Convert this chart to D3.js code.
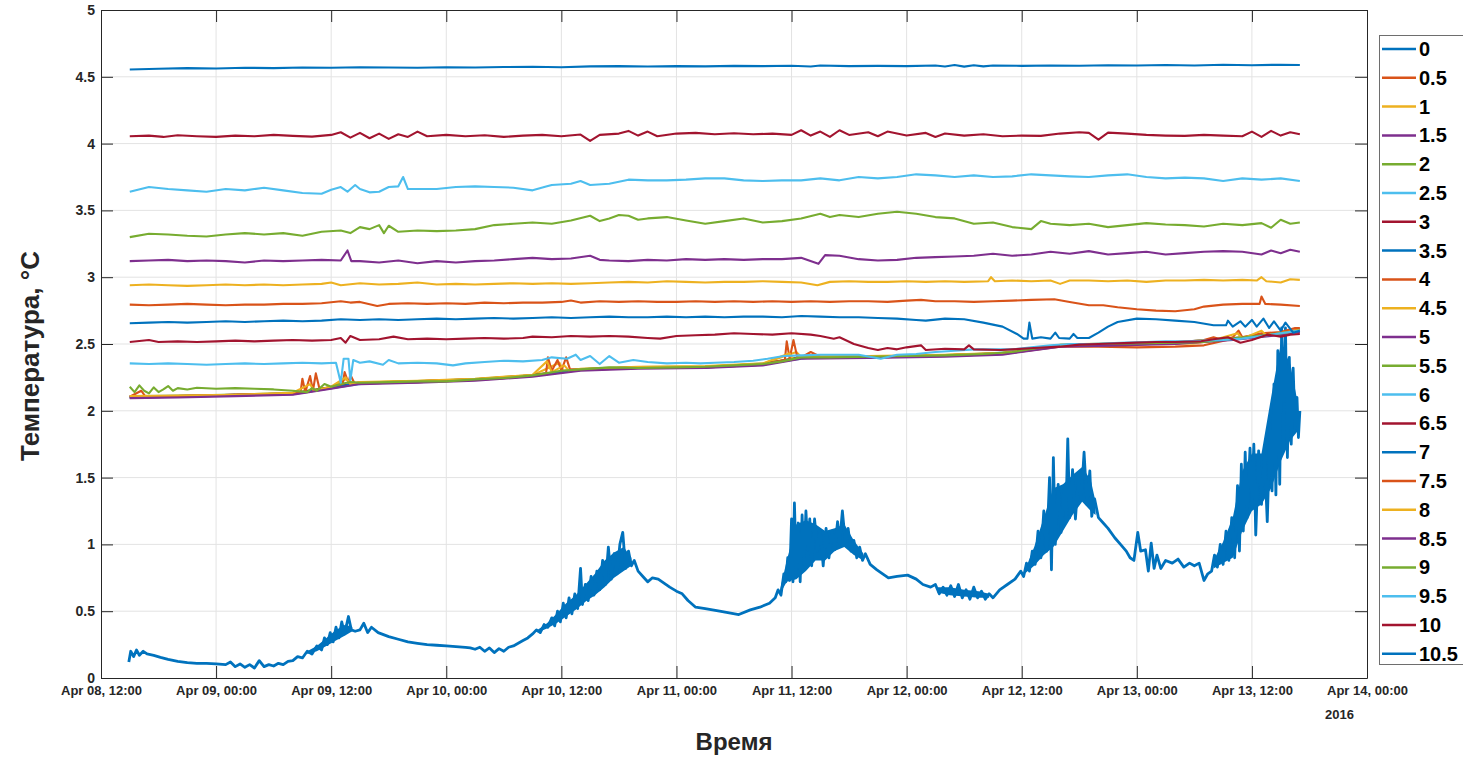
<!doctype html>
<html lang="ru">
<head>
<meta charset="utf-8">
<script src="https://d3js.org/d3.v7.min.js"></script>
<title>Температура</title>
<style>
  body { margin: 0; background: #fff; }
  text { font-family: "Liberation Sans", Arial, Helvetica, sans-serif; }
</style>
</head>
<body>
<svg id="svg1" width="1463" height="757"></svg>
<script>
// time axis: hours after Apr 08 2016, 12:00
const t0 = Date.UTC(2016, 3, 8, 12);
const tEnd = Date.UTC(2016, 3, 14, 0);

const depths = ["0","0.5","1","1.5","2","2.5","3","3.5","4","4.5","5","5.5","6","6.5","7","7.5","8","8.5","9","9.5","10","10.5"];
const colors = ["#0072BD","#D95319","#EDB120","#7E2F8E","#77AC30","#4DBEEE","#A2142F"];
const yTicks = [0,0.5,1,1.5,2,2.5,3,3.5,4,4.5,5];

// [hour, °C] per depth
const d0 = [[2.9,0.12],[3.1,0.2],[3.4,0.16],[3.7,0.21],[4,0.17],[4.4,0.2],[4.8,0.18],[5.5,0.17],[6.2,0.155],[7,0.14],[8,0.125],[9,0.115],[10,0.11],[11,0.11],[12,0.105],[13,0.1],[13.5,0.12],[14,0.085],[14.5,0.105],[15,0.08],[15.5,0.1],[16,0.075],[16.5,0.13],[17,0.085],[17.5,0.1],[18,0.09],[18.5,0.11],[19,0.1],[19.5,0.125],[20,0.13],[20.5,0.16],[21,0.15],[21.5,0.2],[22,0.18],[22.5,0.24],[23,0.21],[23.3,0.3],[23.6,0.25],[23.9,0.34],[24.2,0.27],[24.5,0.38],[24.8,0.3],[25.1,0.42],[25.4,0.33],[25.8,0.46],[26.1,0.36],[26.5,0.35],[27,0.36],[27.4,0.41],[27.8,0.34],[28.2,0.38],[28.9,0.34],[30,0.31],[31,0.29],[32,0.27],[33,0.26],[34,0.25],[35,0.245],[36,0.24],[37,0.235],[38,0.23],[38.5,0.225],[39,0.215],[39.5,0.23],[40,0.2],[40.5,0.225],[41,0.19],[41.5,0.22],[42,0.2],[42.5,0.23],[43,0.24],[43.5,0.26],[44,0.28],[44.5,0.3],[45,0.33],[45.4,0.36],[45.8,0.34],[46.2,0.4],[46.6,0.38],[47,0.45],[47.3,0.39],[47.6,0.5],[47.9,0.42],[48.2,0.56],[48.5,0.45],[48.8,0.6],[49.1,0.48],[49.4,0.63],[49.7,0.52],[50,0.82],[50.2,0.55],[50.5,0.7],[50.8,0.58],[51.1,0.76],[51.4,0.62],[51.7,0.8],[52,0.66],[52.3,0.88],[52.6,0.7],[52.9,0.98],[53.2,0.74],[53.5,0.93],[53.8,0.78],[54.1,1.0],[54.4,1.09],[54.7,0.82],[55,0.95],[55.3,0.84],[55.6,0.88],[56,0.8],[56.5,0.76],[57,0.72],[57.5,0.75],[58.1,0.74],[58.7,0.71],[59.3,0.68],[60,0.65],[60.6,0.63],[61.2,0.58],[62,0.53],[63,0.52],[64.5,0.5],[66.5,0.475],[67.7,0.51],[68.7,0.53],[69.7,0.56],[70.3,0.6],[70.6,0.66],[70.9,0.62],[71.2,0.78],[71.4,0.72],[71.6,0.9],[71.8,0.73],[72,1.19],[72.15,0.72],[72.3,1.31],[72.5,0.78],[72.7,1.16],[72.9,0.72],[73.1,1.22],[73.3,0.85],[73.5,1.25],[73.7,0.96],[73.9,1.19],[74.1,0.84],[74.4,1.19],[74.7,0.95],[75,1.1],[75.3,0.84],[75.6,1.12],[75.9,0.9],[76.2,1.1],[76.5,0.96],[76.8,1.17],[77,1.0],[77.3,1.25],[77.6,1.02],[77.9,1.12],[78.2,0.95],[78.5,1.03],[78.8,0.9],[79.1,0.98],[79.4,0.88],[79.7,0.93],[80.2,0.85],[80.9,0.81],[81.5,0.78],[82.1,0.75],[83,0.76],[84.1,0.77],[85,0.74],[85.7,0.7],[86.5,0.68],[87,0.7],[87.4,0.63],[87.8,0.68],[88.2,0.62],[88.6,0.69],[89,0.61],[89.4,0.7],[89.8,0.6],[90.2,0.66],[90.6,0.59],[91,0.68],[91.4,0.6],[91.8,0.65],[92.2,0.59],[92.6,0.63],[93,0.6],[93.7,0.66],[94.5,0.7],[95.3,0.74],[95.9,0.8],[96.2,0.76],[96.5,0.86],[96.8,0.8],[97.1,0.95],[97.4,0.85],[97.7,1.1],[98,0.9],[98.3,1.25],[98.6,0.95],[98.9,1.5],[99.1,0.81],[99.3,1.65],[99.5,1.0],[99.8,1.45],[100.1,1.09],[100.4,1.44],[100.6,1.2],[100.8,1.79],[101,1.2],[101.3,1.56],[101.6,1.19],[101.9,1.5],[102.2,1.34],[102.5,1.69],[102.8,1.3],[103.1,1.55],[103.3,1.21],[103.6,1.34],[104,1.2],[104.5,1.16],[105,1.12],[105.7,1.05],[106.3,1.0],[106.9,0.95],[107.3,0.9],[107.7,0.88],[108.1,1.09],[108.4,0.95],[108.9,0.96],[109.2,0.8],[109.5,1.01],[109.8,0.82],[110.1,0.92],[110.5,0.82],[111,0.88],[111.7,0.86],[112.3,0.89],[112.9,0.83],[113.5,0.86],[114,0.84],[114.5,0.86],[115,0.73],[115.4,0.78],[115.8,0.8],[116.1,0.92],[116.4,0.83],[116.7,1.0],[117,0.85],[117.3,1.1],[117.6,0.88],[117.9,1.2],[118.2,0.9],[118.5,1.44],[118.7,0.95],[118.9,1.6],[119.1,1.1],[119.3,1.69],[119.5,1.2],[119.8,1.72],[120,1.3],[120.2,1.75],[120.4,1.07],[120.7,1.7],[121,1.3],[121.3,1.69],[121.6,1.17],[121.9,1.9],[122.1,1.4],[122.3,2.2],[122.5,1.37],[122.7,2.45],[122.9,1.45],[123.1,2.62],[123.3,2.07],[123.5,2.62],[123.7,1.65],[123.9,2.4],[124.1,1.75],[124.3,2.32],[124.5,1.87],[124.7,2.1],[124.85,1.8],[125,2.0]];
// noise envelope of depth 0 where the trace is a solid band: [hour, low, high]
const d0band = [
  [[21.5,0.18,0.2],[22.5,0.2,0.24],[23.5,0.24,0.3],[24.5,0.28,0.36],[25.5,0.32,0.4],[26.2,0.35,0.38]],
  [[45.5,0.34,0.36],[46.5,0.37,0.41],[47.5,0.41,0.48],[48.5,0.46,0.56],[49.5,0.51,0.62],[50.5,0.57,0.7],[51.5,0.62,0.78],[52.5,0.68,0.88],[53.5,0.75,0.94],[54.5,0.8,0.98],[55.3,0.84,0.9]],
  [[70.8,0.63,0.66],[71.5,0.72,0.88],[72.5,0.74,1.15],[73.5,0.8,1.18],[74.5,0.88,1.15],[75.5,0.88,1.1],[76.5,0.95,1.12],[77.5,0.98,1.15],[78.5,0.92,1.03],[79.5,0.88,0.93]],
  [[87.2,0.64,0.68],[88.5,0.62,0.68],[90,0.61,0.66],[91.5,0.6,0.65],[92.6,0.6,0.63]],
  [[96.3,0.78,0.8],[97.3,0.84,0.98],[98.3,0.92,1.2],[99.3,0.98,1.42],[100.3,1.1,1.45],[101.3,1.22,1.52],[102.3,1.32,1.58],[103.2,1.25,1.48],[103.7,1.22,1.32]],
  [[116,0.82,0.88],[117,0.86,1.02],[118,0.9,1.2],[119,1.1,1.55],[120,1.25,1.68],[121,1.3,1.68],[122,1.42,2.1],[123,1.62,2.5],[124,1.78,2.35],[124.8,1.85,2.05]]
];
const d05 = [[3,2.1],[8,2.105],[14,2.115],[20,2.128],[24,2.175],[27,2.205],[33,2.215],[39,2.23],[45,2.26],[50,2.305],[56,2.32],[63,2.325],[69,2.345],[73,2.395],[80,2.4],[88,2.41],[94,2.425],[100,2.48],[104,2.48],[108,2.475],[112,2.48],[115,2.49],[118,2.54],[122,2.57],[125,2.61]];
const d1 = [[3,2.105],[8,2.112],[14,2.12],[20,2.13],[24,2.178],[25.6,2.24],[26,2.2],[27,2.212],[33,2.222],[39,2.236],[45,2.266],[47.8,2.36],[48.2,2.3],[50,2.31],[56,2.326],[63,2.33],[69,2.352],[72.5,2.44],[73,2.402],[80,2.407],[88,2.417],[94,2.43],[100,2.49],[106,2.5],[110,2.5],[114,2.505],[118,2.545],[122,2.575],[125,2.605]];
const d15 = [[3,2.098],[8,2.105],[14,2.115],[20,2.125],[24,2.17],[27,2.205],[33,2.215],[39,2.23],[45,2.26],[50,2.305],[56,2.32],[63,2.325],[69,2.345],[73,2.395],[80,2.4],[88,2.41],[94,2.425],[100,2.485],[106,2.495],[112,2.505],[118,2.535],[122,2.565],[125,2.595]];
const d2 = [[3,2.108],[8,2.113],[14,2.122],[20,2.133],[24,2.178],[27,2.212],[33,2.222],[39,2.238],[45,2.268],[50,2.312],[56,2.327],[63,2.332],[69,2.352],[73,2.402],[80,2.407],[88,2.417],[94,2.432],[100,2.492],[106,2.502],[112,2.512],[118,2.542],[122,2.572],[125,2.602]];
const d25 = [[3,2.11],[9,2.112],[15,2.12],[21,2.135],[24,2.17],[28,2.21],[34,2.22],[40,2.24],[46,2.27],[51,2.315],[57,2.325],[64,2.33],[70,2.36],[74,2.4],[81,2.405],[89,2.415],[95,2.44],[101,2.49],[107,2.5],[113,2.51],[119,2.55],[123,2.575],[125,2.6]];
const d3v = [[3,2.105],[8,2.11],[14,2.12],[20,2.13],[24,2.175],[27,2.21],[33,2.22],[39,2.235],[45,2.265],[50,2.31],[56,2.325],[63,2.33],[69,2.35],[73,2.4],[80,2.405],[88,2.415],[94,2.43],[100,2.49],[106,2.5],[112,2.51],[118,2.54],[122,2.57],[125,2.6]];
const d35 = [[3,2.1],[8,2.107],[14,2.117],[20,2.127],[24,2.172],[27,2.207],[33,2.217],[39,2.232],[45,2.262],[50,2.307],[56,2.322],[63,2.327],[69,2.347],[73,2.397],[80,2.402],[88,2.412],[94,2.427],[100,2.487],[106,2.497],[112,2.507],[118,2.537],[122,2.567],[125,2.597]];
const d4 = [[3,2.105],[4.2,2.15],[4.6,2.11],[8,2.11],[14,2.12],[20,2.13],[20.8,2.135],[21,2.24],[21.3,2.14],[21.8,2.26],[22.1,2.15],[22.4,2.28],[22.8,2.16],[24,2.18],[25.2,2.2],[25.4,2.29],[25.8,2.21],[26,2.27],[26.4,2.21],[27,2.21],[33,2.22],[39,2.235],[45,2.265],[46.4,2.28],[46.6,2.4],[47,2.3],[47.6,2.38],[48,2.3],[48.5,2.4],[48.9,2.31],[50,2.31],[56,2.325],[63,2.33],[69,2.35],[71.3,2.38],[71.5,2.52],[71.8,2.39],[72.2,2.53],[72.6,2.4],[73,2.4],[74,2.44],[75,2.405],[80,2.405],[88,2.415],[94,2.43],[100,2.49],[106,2.5],[112,2.51],[115,2.53],[116,2.55],[117,2.53],[118,2.55],[118.6,2.6],[119,2.55],[121,2.58],[123,2.59],[124.5,2.62],[125,2.62]];
const d45 = [[3,2.11],[8,2.115],[14,2.12],[20,2.135],[21.8,2.2],[22.2,2.15],[24,2.18],[25.5,2.25],[26,2.2],[27,2.215],[33,2.225],[39,2.24],[45,2.27],[46.5,2.37],[47,2.29],[48.3,2.34],[48.8,2.3],[50,2.315],[56,2.33],[63,2.335],[69,2.355],[71.8,2.43],[72.2,2.38],[73,2.405],[80,2.41],[88,2.42],[94,2.435],[100,2.495],[106,2.505],[112,2.515],[116,2.53],[118.5,2.58],[119,2.54],[121,2.6],[121.5,2.565],[125,2.605]];
const d5 = [[3,2.095],[8,2.1],[14,2.11],[20,2.12],[24,2.165],[27,2.2],[33,2.21],[39,2.225],[45,2.255],[50,2.3],[56,2.315],[63,2.32],[69,2.34],[73,2.39],[80,2.395],[88,2.405],[94,2.42],[100,2.48],[106,2.49],[112,2.5],[118,2.53],[122,2.56],[125,2.59]];
const d55 = [[3,2.18],[3.5,2.14],[4,2.19],[4.5,2.15],[5,2.13],[5.5,2.175],[6,2.14],[6.5,2.16],[7,2.185],[7.5,2.15],[8,2.17],[9,2.16],[10,2.172],[12,2.165],[14,2.17],[16,2.165],[18,2.16],[20,2.15],[21.5,2.14],[22,2.17],[22.5,2.15],[23.3,2.2],[24,2.18],[25,2.2],[26,2.215],[27,2.21],[30,2.215],[33,2.22],[36,2.22],[39,2.235],[42,2.245],[45,2.265],[48,2.3],[50,2.31],[53,2.325],[56,2.32],[60,2.325],[63,2.33],[66,2.34],[69,2.35],[71,2.37],[73,2.4],[76,2.4],[80,2.405],[84,2.41],[88,2.415],[92,2.425],[95,2.44],[98,2.475],[101,2.495],[104,2.5],[108,2.505],[112,2.51],[115,2.515],[118,2.54],[120,2.555],[122,2.57],[125,2.6]];
const d6 = [[3,2.355],[5,2.35],[7,2.355],[9,2.35],[11,2.345],[13,2.35],[15,2.355],[17,2.35],[19,2.355],[21,2.36],[23,2.355],[24.5,2.36],[25,2.21],[25.3,2.39],[25.8,2.39],[26,2.23],[26.3,2.38],[27,2.36],[28,2.37],[29.4,2.345],[30,2.38],[31,2.355],[33,2.36],[35,2.355],[36.7,2.34],[38,2.355],[40,2.365],[42,2.375],[44,2.37],[46,2.38],[47,2.4],[48.6,2.39],[49.5,2.42],[50,2.38],[51,2.41],[52,2.35],[53,2.41],[54,2.36],[55.5,2.38],[57,2.365],[59,2.355],[61,2.36],[62.5,2.355],[64,2.36],[66,2.365],[68,2.375],[69.5,2.39],[71.2,2.41],[73,2.415],[75,2.42],[77,2.42],[79,2.42],[81.3,2.39],[83,2.42],[85,2.425],[87,2.44],[89,2.45],[91,2.46],[93,2.46],[95,2.46],[97,2.475],[99,2.49],[101,2.5],[103,2.5],[105,2.505],[107,2.51],[109,2.515],[111,2.52],[113,2.52],[115,2.525],[117,2.53],[119,2.54],[121,2.56],[123,2.58],[125,2.6]];
const d65 = [[3,2.515],[5,2.53],[6,2.515],[8,2.52],[10,2.515],[12,2.52],[14,2.525],[16,2.52],[18,2.525],[20,2.53],[22,2.525],[24,2.53],[25,2.545],[25.5,2.51],[26,2.56],[27,2.53],[29,2.535],[30.5,2.555],[32,2.535],[34,2.54],[36,2.535],[38,2.54],[40,2.545],[42,2.54],[44,2.545],[45,2.555],[47,2.55],[49,2.56],[51,2.555],[53,2.56],[55,2.555],[57,2.545],[58.3,2.54],[60,2.56],[62,2.565],[64,2.57],[66,2.58],[68,2.575],[70,2.57],[72,2.58],[74,2.57],[75,2.56],[76.4,2.54],[77,2.55],[78.5,2.5],[80,2.47],[81,2.455],[82,2.47],[83,2.46],[84,2.475],[85.5,2.49],[86,2.455],[88,2.465],[90,2.46],[90.5,2.49],[91,2.46],[93.8,2.455],[95,2.46],[97.3,2.47],[100,2.48],[102,2.495],[104,2.5],[106,2.505],[108,2.51],[110,2.515],[112,2.515],[114.7,2.52],[116,2.535],[117.5,2.55],[118.8,2.51],[120,2.53],[121.6,2.57],[123,2.555],[124,2.57],[125,2.575]];
const d7 = [[3,2.655],[5,2.66],[7,2.665],[9,2.66],[11,2.665],[13,2.67],[15,2.665],[17,2.67],[19,2.675],[21,2.67],[23,2.675],[25,2.685],[27,2.68],[29,2.685],[31,2.68],[33,2.685],[35,2.69],[37,2.685],[39,2.69],[41,2.695],[43,2.69],[45,2.695],[47,2.7],[49,2.695],[51,2.7],[53,2.705],[55,2.7],[57,2.7],[59,2.705],[61,2.7],[63,2.705],[65,2.7],[67,2.705],[69,2.705],[71,2.7],[73,2.71],[75,2.705],[77,2.7],[79,2.7],[81,2.695],[83,2.69],[85,2.68],[86,2.675],[88,2.69],[90,2.685],[92,2.66],[94,2.63],[95.5,2.575],[96.2,2.54],[96.6,2.54],[96.8,2.66],[97.1,2.54],[98,2.55],[99,2.54],[99.5,2.585],[99.9,2.545],[101,2.54],[101.4,2.575],[101.8,2.545],[103,2.545],[104,2.585],[105,2.63],[106,2.665],[108,2.69],[110,2.685],[112,2.675],[114,2.665],[116,2.64],[117.3,2.64],[117.5,2.675],[118,2.63],[118.8,2.67],[119.3,2.63],[120,2.68],[120.5,2.63],[121.2,2.69],[121.8,2.62],[122.3,2.67],[123,2.6],[123.5,2.66],[124.3,2.585],[125,2.6]];
const d75 = [[3,2.795],[5,2.79],[7,2.795],[9,2.8],[11,2.795],[13,2.79],[15,2.795],[17,2.795],[19,2.8],[21,2.8],[23,2.805],[25,2.82],[26,2.81],[27,2.815],[28.8,2.785],[30,2.8],[32,2.805],[34,2.8],[36,2.805],[38,2.8],[40,2.81],[42,2.805],[44,2.81],[46,2.81],[48,2.815],[49,2.825],[50,2.81],[52,2.82],[54,2.815],[56,2.82],[58,2.815],[60,2.815],[62,2.82],[64,2.815],[66,2.82],[68,2.815],[70,2.82],[72,2.815],[74,2.82],[76,2.815],[78,2.82],[80,2.82],[82,2.815],[84,2.825],[85.5,2.83],[87,2.82],[89,2.82],[91,2.815],[93,2.82],[95,2.825],[97,2.83],[99.4,2.835],[101,2.815],[103,2.79],[104.5,2.79],[106,2.775],[108,2.76],[110,2.75],[112,2.745],[114,2.76],[115,2.78],[117,2.795],[119,2.8],[120.8,2.8],[121,2.855],[121.4,2.8],[123,2.795],[125,2.785]];
const d8 = [[3,2.94],[5,2.945],[7,2.94],[9,2.935],[11,2.94],[13,2.945],[15,2.94],[17,2.945],[19,2.94],[21,2.945],[23,2.95],[24,2.96],[25,2.94],[27,2.955],[29,2.945],[31,2.95],[33,2.96],[35,2.945],[37,2.95],[39,2.945],[41,2.95],[43,2.955],[45,2.95],[47,2.955],[49,2.95],[51,2.955],[53,2.96],[55,2.965],[57,2.96],[59,2.97],[61,2.965],[63,2.96],[65,2.965],[67,2.965],[69,2.97],[71,2.965],[73,2.96],[74.7,2.94],[76,2.965],[78,2.97],[80,2.965],[82,2.965],[84,2.97],[86,2.965],[88,2.97],[90,2.965],[92.5,2.97],[92.8,3.0],[93.2,2.97],[95,2.975],[97,2.97],[99,2.975],[100,2.95],[101,2.975],[103,2.975],[105,2.97],[107,2.975],[109,2.965],[111,2.975],[113,2.975],[115,2.98],[117,2.975],[119,2.98],[120.5,2.975],[121,3.0],[121.5,2.97],[123,2.96],[124,2.985],[125,2.98]];
const d85 = [[3,3.12],[5,3.125],[7,3.13],[9,3.12],[11,3.125],[13,3.12],[15,3.11],[17,3.125],[19,3.12],[21,3.125],[23,3.13],[25,3.125],[25.7,3.2],[26.1,3.12],[27,3.12],[29,3.11],[31,3.125],[33,3.105],[35,3.12],[37,3.11],[39,3.12],[41,3.125],[43,3.135],[45,3.145],[47,3.135],[49,3.14],[51,3.16],[52,3.13],[53,3.125],[55,3.12],[57,3.13],[59,3.125],[61,3.135],[63,3.13],[65,3.135],[67,3.13],[69,3.135],[71,3.135],[73,3.145],[74.8,3.1],[75.5,3.165],[77,3.16],[79,3.135],[81,3.125],[83,3.13],[85,3.145],[87,3.15],[89,3.155],[91,3.16],[93,3.175],[95,3.16],[97,3.17],[99,3.19],[101,3.175],[103,3.195],[105,3.17],[107,3.18],[109,3.19],[111,3.17],[113,3.18],[115,3.19],[117,3.195],[119,3.19],[121,3.17],[122,3.2],[123,3.18],[124,3.205],[125,3.19]];
const d9 = [[3,3.3],[5,3.325],[7,3.32],[9,3.31],[11,3.305],[13,3.32],[15,3.33],[17,3.32],[19,3.33],[21,3.31],[23,3.34],[25,3.35],[26,3.33],[27,3.375],[28,3.36],[29,3.39],[29.5,3.33],[30,3.385],[31,3.34],[33,3.35],[35,3.345],[37,3.35],[39,3.36],[41,3.39],[43,3.4],[45,3.41],[47,3.4],[49,3.425],[51,3.46],[52,3.42],[53,3.44],[54,3.465],[55,3.46],[56,3.43],[57,3.44],[59,3.45],[61,3.425],[63,3.4],[65,3.42],[67,3.44],[69,3.41],[71,3.42],[73,3.44],[75,3.475],[76,3.45],[77,3.465],[79,3.45],[81,3.475],[83,3.49],[85,3.475],[87,3.45],[89,3.44],[91,3.4],[93,3.41],[95,3.375],[97,3.36],[98,3.42],[99,3.4],[101,3.39],[103,3.4],[105,3.375],[107,3.39],[109,3.405],[111,3.395],[113,3.39],[115,3.38],[117,3.4],[119,3.39],[121,3.405],[122,3.37],[123,3.43],[124,3.4],[125,3.41]];
const d95 = [[3,3.64],[5,3.675],[7,3.66],[9,3.65],[11,3.64],[13,3.66],[15,3.65],[17,3.67],[19,3.65],[21,3.63],[23,3.625],[24,3.655],[25,3.675],[25.7,3.64],[26.5,3.69],[27,3.66],[28,3.635],[29,3.64],[30,3.675],[31,3.68],[31.5,3.75],[32,3.66],[33,3.66],[35,3.66],[37,3.675],[39,3.68],[41,3.675],[43,3.67],[45,3.65],[46.5,3.68],[47,3.69],[49,3.7],[50,3.72],[51,3.69],[53,3.7],[55,3.73],[57,3.725],[59,3.725],[61,3.73],[63,3.74],[65,3.74],[67,3.725],[69,3.72],[71,3.725],[73,3.725],[75,3.74],[77,3.725],[79,3.75],[81,3.74],[83,3.75],[85,3.77],[87,3.762],[89,3.75],[91,3.762],[93,3.75],[95,3.755],[97,3.77],[99,3.762],[101,3.755],[103,3.75],[105,3.762],[107,3.77],[109,3.75],[111,3.74],[113,3.745],[115,3.74],[117,3.72],[119,3.74],[121,3.73],[123,3.74],[125,3.72]];
const d10 = [[3,4.055],[5,4.06],[6.5,4.05],[8,4.062],[10,4.055],[12,4.05],[14,4.06],[16,4.055],[18,4.065],[20,4.058],[22,4.052],[24,4.065],[25,4.085],[26,4.045],[27,4.08],[28,4.04],[29,4.075],[30,4.035],[31,4.07],[32,4.05],[33,4.09],[34,4.055],[36,4.065],[38,4.055],[40,4.062],[42,4.05],[44,4.06],[46,4.065],[48,4.055],[50,4.068],[51,4.02],[52,4.065],[54,4.075],[55,4.095],[56,4.06],[57,4.09],[58,4.055],[60,4.075],[62,4.08],[64,4.07],[66,4.078],[68,4.07],[70,4.075],[72,4.065],[73,4.1],[74,4.06],[75,4.09],[76,4.05],[77,4.1],[78,4.065],[80,4.085],[81,4.055],[82,4.09],[84,4.06],[86,4.08],[87,4.05],[88,4.075],[90,4.06],[92,4.07],[94,4.055],[96,4.06],[98,4.058],[100,4.075],[102,4.085],[103,4.08],[104,4.03],[105,4.082],[107,4.075],[109,4.065],[111,4.06],[113,4.058],[115,4.065],[117,4.06],[119,4.055],[120,4.09],[121,4.05],[122,4.095],[123,4.06],[124,4.085],[125,4.07]];
const d105 = [[3,4.555],[6,4.56],[9,4.565],[12,4.562],[15,4.568],[18,4.565],[21,4.57],[24,4.568],[27,4.572],[30,4.57],[33,4.568],[36,4.572],[39,4.57],[42,4.573],[45,4.575],[48,4.572],[51,4.578],[54,4.58],[57,4.577],[60,4.58],[63,4.578],[66,4.582],[69,4.58],[72,4.583],[74,4.577],[75,4.585],[78,4.58],[81,4.582],[84,4.58],[87,4.585],[88,4.577],[89,4.588],[90,4.576],[91,4.587],[92,4.578],[93,4.585],[96,4.582],[99,4.585],[102,4.583],[105,4.587],[108,4.585],[111,4.588],[114,4.585],[117,4.59],[120,4.587],[123,4.59],[125,4.588]];

const series = [d0,d05,d1,d15,d2,d25,d3v,d35,d4,d45,d5,d55,d6,d65,d7,d75,d8,d85,d9,d95,d10,d105];

const margin = { top: 10, right: 96, bottom: 79, left: 101 };
const width = 1463 - margin.left - margin.right;
const height = 757 - margin.top - margin.bottom;
const axisColor = "#262626";

const svg = d3.select("#svg1");
const g = svg.append("g").attr("transform", `translate(${margin.left},${margin.top})`);

const xScale = d3.scaleUtc().domain([new Date(t0), new Date(tEnd)]).range([0, width]);
const yScale = d3.scaleLinear().domain([0, 5]).range([height, 0]);
const toDate = h => new Date(t0 + h * 3600e3);
const xTicks = d3.utcHour.every(12).range(new Date(t0), new Date(tEnd + 1));
const fmt = d3.utcFormat("%b %d, %H:%M");

// grid
g.append("g").selectAll("line").data(yTicks.slice(1, -1)).join("line")
  .attr("x1", 0).attr("x2", width)
  .attr("y1", d => yScale(d)).attr("y2", d => yScale(d))
  .attr("stroke", "#e3e3e3").attr("stroke-width", 1);
g.append("g").selectAll("line").data(xTicks.slice(1, -1)).join("line")
  .attr("x1", d => xScale(d)).attr("x2", d => xScale(d))
  .attr("y1", 0).attr("y2", height)
  .attr("stroke", "#e3e3e3").attr("stroke-width", 1);

// noise band of the surface sensor
const band = d3.area()
  .x(d => xScale(toDate(d[0])))
  .y0(d => yScale(d[1]))
  .y1(d => yScale(d[2]));
g.append("g").selectAll("path").data(d0band).join("path")
  .attr("d", band).attr("fill", colors[0]);

// lines
const line = d3.line().x(d => xScale(toDate(d[0]))).y(d => yScale(d[1]));
g.append("g").attr("fill", "none").attr("stroke-linejoin", "round")
  .selectAll("path").data(series).join("path")
  .attr("d", line)
  .attr("stroke", (d, i) => colors[i % 7])
  .attr("stroke-width", (d, i) => i === 0 ? 2.8 : 2.1);

// axes (MATLAB style box, ticks inward)
const tl = 12;
const xb = g.append("g").attr("transform", `translate(0,${height})`)
  .call(d3.axisBottom(xScale).tickValues(xTicks).tickFormat(fmt).tickSizeInner(-tl).tickSizeOuter(0).tickPadding(8));
const xt = g.append("g")
  .call(d3.axisTop(xScale).tickValues(xTicks).tickFormat("").tickSizeInner(-tl).tickSizeOuter(0));
const yl = g.append("g")
  .call(d3.axisLeft(yScale).tickValues(yTicks).tickFormat(d3.format("")).tickSizeInner(-tl).tickSizeOuter(0).tickPadding(6));
const yr = g.append("g").attr("transform", `translate(${width},0)`)
  .call(d3.axisRight(yScale).tickValues(yTicks).tickFormat("").tickSizeInner(-tl).tickSizeOuter(0));

[xb, xt, yl, yr].forEach(a => {
  a.select(".domain").attr("stroke", axisColor).attr("stroke-width", 1);
  a.selectAll(".tick line").attr("stroke", axisColor).attr("stroke-width", 1);
  a.selectAll(".tick text").attr("fill", axisColor).attr("font-weight", "bold")
    .attr("font-family", "Liberation Sans, Arial, sans-serif");
});
xb.selectAll(".tick text").attr("font-size", 13);
yl.selectAll(".tick text").attr("font-size", 14);

g.append("text")
  .attr("x", xScale(new Date(tEnd)) - 42).attr("y", height + 41)
  .attr("fill", axisColor).attr("font-weight", "bold").attr("font-size", 13)
  .text("2016");

// axis titles
svg.append("text")
  .attr("transform", `translate(39,${margin.top + height / 2 + 12}) rotate(-90)`)
  .attr("text-anchor", "middle")
  .attr("fill", axisColor).attr("font-weight", "bold").attr("font-size", 26)
  .text("Температура, °C");
svg.append("text")
  .attr("x", margin.left + width / 2).attr("y", 750)
  .attr("text-anchor", "middle")
  .attr("fill", axisColor).attr("font-weight", "bold").attr("font-size", 24)
  .text("Время");

// legend
const legend = svg.append("g").attr("transform", "translate(1379,35)");
legend.append("rect").attr("x", 0.5).attr("y", 0.5).attr("width", 120).attr("height", 629)
  .attr("fill", "#fff").attr("stroke", "#6e6e6e").attr("stroke-width", 1);
const items = legend.selectAll("g.item").data(depths).join("g")
  .attr("class", "item")
  .attr("transform", (d, i) => `translate(0,${14 + i * 28.8})`);
items.append("line").attr("x1", 3).attr("x2", 37).attr("y1", 0).attr("y2", 0)
  .attr("stroke", (d, i) => colors[i % 7]).attr("stroke-width", 2.5);
items.append("text").attr("x", 40).attr("y", 0).attr("dy", "0.35em")
  .attr("font-weight", "bold").attr("font-size", 20).attr("fill", "#000")
  .text(d => d);
</script>
</body>
</html>
